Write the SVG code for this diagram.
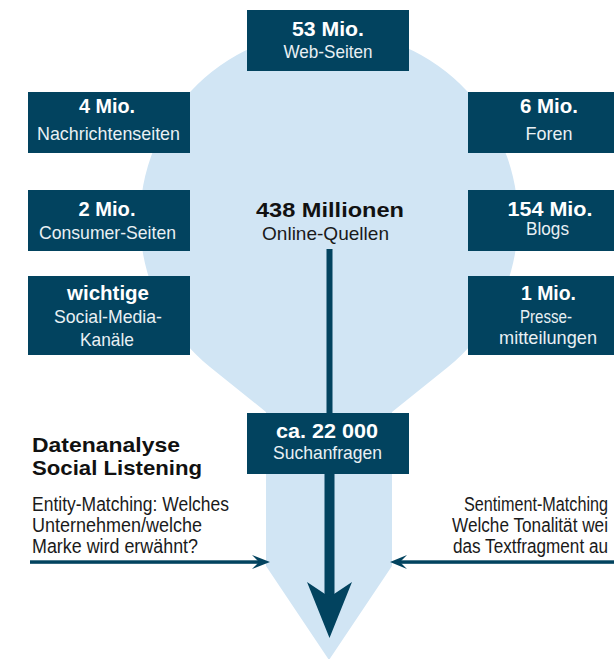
<svg xmlns="http://www.w3.org/2000/svg" width="614" height="659" viewBox="0 0 614 659">
  <style>
    .box { fill: #02435f; }
    .num { font-family: "Liberation Sans", Arial, sans-serif; font-weight: 700; font-size: 19.5px; fill: #ffffff; text-anchor: middle; }
    .lbl { font-family: "Liberation Sans", Arial, sans-serif; font-size: 19px; fill: #e9f0f4; text-anchor: middle; }
    .head { font-family: "Liberation Sans", Arial, sans-serif; font-weight: 700; font-size: 21px; fill: #111111; }
    .body { font-family: "Liberation Sans", Arial, sans-serif; font-size: 19.5px; fill: #1a1a1a; }
    .ctr1 { font-family: "Liberation Sans", Arial, sans-serif; font-weight: 700; font-size: 21px; fill: #111111; text-anchor: middle; }
    .ctr2 { font-family: "Liberation Sans", Arial, sans-serif; font-size: 19px; fill: #1a1a1a; text-anchor: middle; }
    .navy { fill: #02435f; }
  </style>

  <!-- funnel / bulb shape -->
  <path id="funnel" d="M 210 367 A 189 189 0 1 1 448 367 L 392 412 L 392 566 L 329 660 L 266 566 L 266 412 Z" fill="#d1e5f4"/>

  <g id="connectors">
    <rect class="navy" x="326.5" y="249" width="6" height="166"/>
    <rect class="navy" x="324.5" y="472" width="10" height="128"/>
    <polygon class="navy" points="307,582 329.5,597 352,582 329.5,638"/>
    <rect class="navy" x="30" y="560.3" width="232" height="3.5"/>
    <polygon class="navy" points="252,555 270,562 252,569 259,562"/>
    <rect class="navy" x="398" y="560.3" width="216" height="3.5"/>
    <polygon class="navy" points="407,555 390,562 407,569 400,562"/>
  </g>

  <g id="n-web">
    <rect class="box" x="247" y="10" width="162" height="61"/>
    <text class="num" x="328" y="36" textLength="72" lengthAdjust="spacingAndGlyphs">53 Mio.</text>
    <text class="lbl" x="328" y="58" textLength="89" lengthAdjust="spacingAndGlyphs">Web-Seiten</text>
  </g>

  <g id="n-news">
    <rect class="box" x="28" y="92" width="162" height="61"/>
    <text class="num" x="107" y="113" textLength="56" lengthAdjust="spacingAndGlyphs">4 Mio.</text>
    <text class="lbl" x="108.5" y="140" textLength="143" lengthAdjust="spacingAndGlyphs">Nachrichtenseiten</text>
  </g>

  <g id="n-forums">
    <rect class="box" x="468" y="92" width="162" height="61"/>
    <text class="num" x="549" y="113" textLength="58" lengthAdjust="spacingAndGlyphs">6 Mio.</text>
    <text class="lbl" x="549" y="140" textLength="47" lengthAdjust="spacingAndGlyphs">Foren</text>
  </g>

  <g id="n-consumer">
    <rect class="box" x="28" y="190" width="162" height="61"/>
    <text class="num" x="107" y="216" textLength="57" lengthAdjust="spacingAndGlyphs">2 Mio.</text>
    <text class="lbl" x="107.5" y="239" textLength="137" lengthAdjust="spacingAndGlyphs">Consumer-Seiten</text>
  </g>

  <g id="n-blogs">
    <rect class="box" x="468" y="190" width="162" height="61"/>
    <text class="num" x="550" y="216" textLength="85" lengthAdjust="spacingAndGlyphs">154 Mio.</text>
    <text class="lbl" x="547.5" y="235" textLength="43" lengthAdjust="spacingAndGlyphs">Blogs</text>
  </g>

  <g id="n-total">
    <text class="ctr1" x="330" y="217" textLength="148" lengthAdjust="spacingAndGlyphs">438 Millionen</text>
    <text class="ctr2" x="325.5" y="240" textLength="127" lengthAdjust="spacingAndGlyphs">Online-Quellen</text>
  </g>

  <g id="n-social">
    <rect class="box" x="28" y="276" width="162" height="79"/>
    <text class="num" x="108" y="300" textLength="82" lengthAdjust="spacingAndGlyphs">wichtige</text>
    <text class="lbl" x="108" y="323" textLength="108" lengthAdjust="spacingAndGlyphs">Social-Media-</text>
    <text class="lbl" x="107" y="346" textLength="54" lengthAdjust="spacingAndGlyphs">Kanäle</text>
  </g>

  <g id="n-press">
    <rect class="box" x="468" y="276" width="162" height="79"/>
    <text class="num" x="548.5" y="300" textLength="55" lengthAdjust="spacingAndGlyphs">1 Mio.</text>
    <text class="lbl" x="546" y="323" textLength="52" lengthAdjust="spacingAndGlyphs">Presse-</text>
    <text class="lbl" x="548" y="344" textLength="98" lengthAdjust="spacingAndGlyphs">mitteilungen</text>
  </g>

  <g id="n-queries">
    <rect class="box" x="247" y="413" width="162" height="61"/>
    <text class="num" x="327" y="438" textLength="102" lengthAdjust="spacingAndGlyphs">ca. 22 000</text>
    <text class="lbl" x="327.5" y="459" textLength="109" lengthAdjust="spacingAndGlyphs">Suchanfragen</text>
  </g>

  <g id="n-analysis">
    <text class="head" x="32" y="452" textLength="148" lengthAdjust="spacingAndGlyphs">Datenanalyse</text>
    <text class="head" x="32" y="475" textLength="170" lengthAdjust="spacingAndGlyphs">Social Listening</text>
  </g>

  <g id="n-entity">
    <text class="body" x="32" y="511" textLength="197" lengthAdjust="spacingAndGlyphs">Entity-Matching: Welches</text>
    <text class="body" x="32" y="532" textLength="170" lengthAdjust="spacingAndGlyphs">Unternehmen/welche</text>
    <text class="body" x="32" y="553" textLength="166" lengthAdjust="spacingAndGlyphs">Marke wird erwähnt?</text>
  </g>

  <g id="n-sentiment">
    <text class="body" x="464" y="511" textLength="144" lengthAdjust="spacingAndGlyphs">Sentiment-Matching</text>
    <text class="body" x="452" y="532" textLength="156" lengthAdjust="spacingAndGlyphs">Welche Tonalität wei</text>
    <text class="body" x="453" y="553" textLength="155" lengthAdjust="spacingAndGlyphs">das Textfragment au</text>
  </g>
</svg>
